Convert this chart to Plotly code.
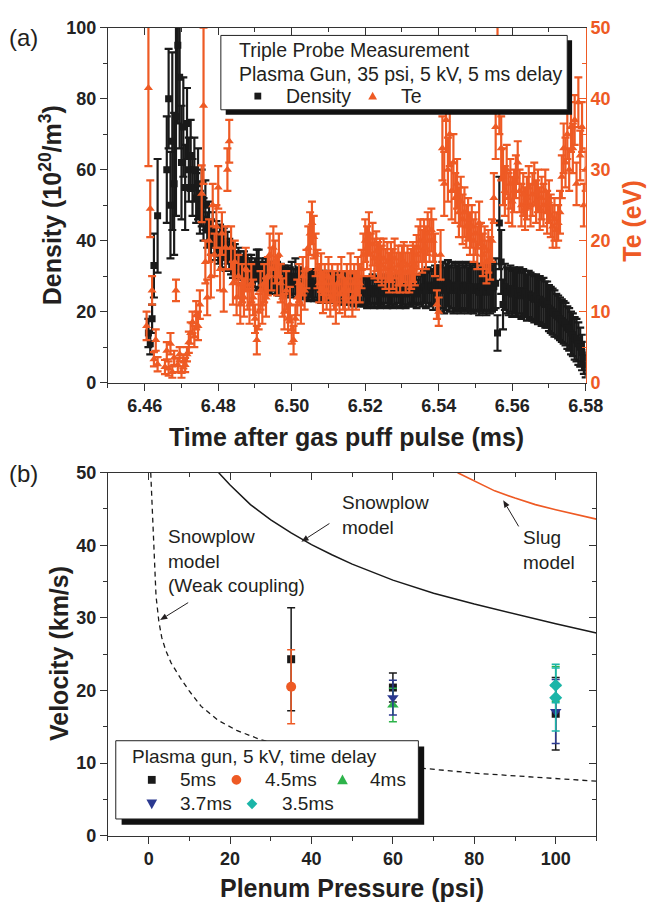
import plotly.graph_objects as go

# ---------------- data: panel (a) ----------------
T_START = 6.4605          # ms, first sample
T_STEP = 0.0005           # ms, sample spacing
N_SAMPLES = 240
time_ms = [round(T_START + T_STEP * i, 4) for i in range(N_SAMPLES)]

density = [
    None, 14, 11, 18, 33, None, 47, None, None, None, None,
    60, 80, 50, 68, 56, 75, 95, 86, 62, 72, 55, 73, 60, 64, 55, 60, 52, 56, 48,
    52, 46, 50, 43, 45, 41, 43, 39, 41, 38, 40, 37, 39, 36, 38, 36, 35, 34, 35, 33,
    34, 33, 32, 33, 31, 32, 31, 32, 30, 31,
    33, 32, 30, 31, 30, 31, 29.5, 30, 29, 30, 29, 30, 28.5, 29.5, 28.5, 29, 28, 29, 28.5, 29.5,
    28, 30, 28, 28.5, 27.5, 28, 27.5, 28, 27, 28,
    27.5, 27, 28, 27, 27.5, 26.5, 27.5, 27, 26.5, 27.5, 26.5, 27, 26.5, 27, 26, 27, 26.5, 26, 27, 26,
    26.5, 26, 26.5, 25.5, 26.5, 26, 25.5, 26, 25.5, 26,
    25, 26, 25.5, 26.5, 25, 26, 25.5, 25, 26, 25.5, 26.5, 25, 25.5, 26, 25, 26, 25.5, 26.5, 25, 25.5,
    26, 25, 26, 25.5, 26.5, 25.5, 26, 25, 26.5, 26,
    26, 27, 26, 27.5, 26.5, 27, 26, 27.5, 26.5, 27,
    26.5, 27.5, 26, 27, 28, 26.5, 27.5, 26, 27, 26.5, 27.5, 26, 27, 26.5, 27.5, 26, 27, 26.5, 26, 27,
    26.5, 25.5, 27, 26, 26.5, 25.5, 27, 26, 26.5, 27,
    28, 14, 45, 34, 22, 27,
    26, 25.5, 26.5, 25, 26, 25.5, 25, 26, 24.5, 25.5, 25, 24, 25, 24.5,
    24, 23.5, 24, 23, 23.5, 22.5, 23, 22, 22, 21,
    20.5, 20, 19.5, 19, 18.5, 18, 17.5, 17, 16.5, 15.5, 15, 14, 13.5, 12.5, 12, 11, 10, 8.5, 7, 5,
]
density_err = [
    None, 4, 3, 4, 9, None, 16, None, None, None, None,
    15, 14, 15, 25, 20, 28, 22, 20, 16, 14, 12, 10, 9, 10, 8, 9, 7, 10, 6,
    8, 6, 7, 5, 6, 5, 5, 4.5, 4.5, 4.5, 4.5, 4.5, 4.5, 4.5, 4.5, 4.5, 4.5, 4.5,
    4, 4, 4, 4, 4, 4, 4, 4, 4, 4, 4, 4,
    4.5, 5.5, 4, 4, 4, 4, 4, 4, 4, 4, 4, 4, 4, 4, 4, 4, 4, 4, 4, 4.5,
    4, 5, 4, 4, 4, 4, 4, 4, 4, 4,
    4, 4, 4, 4, 4, 4, 4, 4, 4, 4, 4, 4, 4, 4, 4, 4, 4, 4, 4, 4,
    4, 4, 4, 4, 4, 4, 4, 4, 4, 4,
    4, 4, 4, 4, 4, 4, 4, 4, 4, 4, 4, 4, 4, 4, 4, 4, 4, 4, 4, 4,
    4, 4, 4, 4, 4, 4, 4, 4, 4, 4,
    4.5, 4.5, 5, 5, 5, 5, 5.5, 5.5, 6, 6,
    6.5, 6.5, 6.5, 6.5, 6.5, 6.5, 6.5, 6.5, 6.5, 6.5, 6.5, 6.5, 6.5, 6.5, 6.5, 6.5, 6.5, 6.5, 6.5, 6.5,
    6.5, 6.5, 6.5, 6.5, 6.5, 6.5, 6.5, 6.5, 6.5, 6.5,
    7, 5, 13, 9, 7, 6.5,
    6.5, 6.5, 6.5, 6.5, 6.5, 6.5, 6.5, 6.5, 6.5, 6.5, 6.5, 6.5, 6.5, 6.5,
    6.5, 6.5, 6.5, 6.5, 6.5, 6.5, 6.5, 6.5, 6.5, 6.5,
    6.5, 6.5, 6.5, 6, 6, 6, 6, 6, 6, 6, 6, 6, 6, 6, 6, 6, 5.5, 5, 4.5, 3.5,
]
te = [
    8, 41.5, 24.5, 13, 3.3, 6, 2.6, None, None, None,
    2.2, 4.5, 2, 5.5, 1.5, 3.5, 13, 2.5, 4, 1.5, 3, 2.5, 4, 5.7, 7, 8.5, 6.5, 9.5, 8, 11,
    26.6, 39, 17, 12, 20, 15, 25, 18, 22, 27.5, 16, 21, 13, 19, 30, 34, 19, 14, 17, 12,
    15, 11, 14, 12, 16, 13, 11, 14, 12, 9,
    6, 10, 13, 11, 14, 12, 15, 18, 16, 19, 17, 15, 18, 14, 12, 10, 13, 9, 11, 7.5,
    6, 9, 12, 14, 11, 15, 13, 16, 19, 21,
    22.5, 20.5, 18, 16, 14, 15.5, 12.5, 14, 13, 15, 12, 14, 13, 11, 14, 12.5, 15, 13, 12, 14,
    13, 15.5, 12, 14, 13, 15, 14, 16, 18, 20,
    19, 21, 18, 19.5, 17.5, 18.5, 17, 17.5, 16.5, 17.5, 16, 17, 15.5, 17, 16, 17.5, 15.5, 16.5, 15.5, 16.5,
    17, 15.5, 16.5, 15.5, 16, 17, 16.5, 18, 19, 20,
    18.5, 20, 19, 21, 20, 21.5, 20, 18, 11, 10, 18, 33, 28, 37, 30, 35, 27, 31, 26, 28,
    24, 25.5, 23, 24, 22, 23, 21, 22, 20, 21,
    19, 22.5, 19.5, 18, 19, 17, 18.5, 17.5, 20, 26, 36, 47, 40, 33, 29, 27, 30, 26, 28, 25.5,
    27, 29, 31, 27, 25, 26.5, 24.5, 26, 27.5, 25,
    26.5, 28, 25.5, 27, 24.5, 26, 25, 27, 24, 25.5, 23.5, 22, 23, 21.5, 22.5, 24, 29, 33, 31, 35,
    30, 36, 33, 37, 28, 39.5, 32, 36, 25, 30,
]
te_err = [
    2, 11, 4, 2, 1, 1.5, 1, None, None, None,
    1, 1.2, 1, 1.5, 0.8, 1, 1.5, 1, 1, 0.8, 1, 1, 1, 1.5, 1.5, 1.5, 1.5, 2, 2, 2,
    4, 11, 3, 2.5, 3, 3, 3, 3, 3, 3, 3, 3, 3, 3, 3, 3, 3, 3, 3, 2.5,
    3, 2.7, 2.7, 2.7, 3, 2.7, 2.7, 2.7, 2.5, 2,
    2, 2.5, 2.7, 2.7, 2.7, 2.7, 2.7, 3, 3, 3, 3, 2.7, 3, 2.7, 2.7, 2.5, 2.7, 2, 2.5, 2,
    2, 2, 2.5, 2.7, 2.7, 2.7, 2.7, 2.7, 3, 3,
    3, 3, 3, 2.7, 2.7, 2.7, 2.7, 2.7, 2.7, 2.7, 2.7, 2.7, 2.7, 2.7, 2.7, 2.7, 2.7, 2.7, 2.7, 2.7,
    2.7, 2.7, 2.7, 2.7, 2.7, 2.7, 2.7, 2.7, 3, 3,
    3, 3, 3, 3, 2.8, 2.8, 2.8, 2.8, 2.8, 2.8, 2.8, 2.8, 2.8, 2.8, 2.8, 2.8, 2.8, 2.8, 2.8, 2.8,
    2.8, 2.8, 2.8, 2.8, 2.8, 2.8, 2.8, 2.8, 3, 3,
    3, 3, 3, 3, 3, 3, 3, 3, 2, 2, 3.5, 4.5, 4.5, 4.5, 4.5, 4.5, 4, 4, 3.5, 3.5,
    3.5, 3.5, 3.5, 3.5, 3, 3, 3, 3, 3, 3,
    3, 3, 3, 3, 3, 3, 3, 3, 3, 3.5, 4.5, 4.5, 5, 4.5, 4, 3.5, 3.5, 3.5, 3.5, 3.5,
    3, 3, 3, 3, 3, 3, 3, 3, 3, 3,
    3, 3, 3, 3, 3, 3, 3, 3, 3, 3, 3, 3, 3, 2.5, 2.5, 3, 3, 3.5, 3.5, 3.5,
    3, 3.5, 3.5, 3.5, 3, 3.5, 3.5, 3.5, 3, 3,
]

# ---------------- data: panel (b) ----------------
p_5ms, v_5ms, e_5ms = [35, 60, 100], [24.3, 20.4, 16.8], [7.1, 2.0, 5.0]
p_45ms, v_45ms, e_45ms = [35], [20.5], [5.1]
p_4ms, v_4ms, e_4ms = [60, 100], [18.0, 20.9], [2.3, 2.4]
p_37ms, v_37ms, e_37ms = [60, 100], [19.0, 17.1], [2.4, 4.4]
p_35ms, v_35ms, e_35ms = [100, 100], [20.7, 19.0], [2.4, 4.6]

snowplow_p = [17.2, 20, 25, 30, 35, 40, 45, 50, 60, 70, 80, 90, 100, 110]
snowplow_v = [50, 48.3, 45.6, 43.5, 41.7, 40.1, 38.7, 37.4, 35.2, 33.4, 31.9, 30.5, 29.2, 27.9]
slug_p = [75.9, 80, 85, 90, 95, 100, 105, 110]
slug_v = [50, 48.9, 47.5, 46.5, 45.6, 44.9, 44.2, 43.6]
weak_p = [0.5, 0.9, 1.3, 1.8, 2.5, 3.2, 4.2, 5.5, 7.8, 10, 12.9, 17, 21.6, 27.6, 35, 45, 56, 67, 80, 95, 110]
weak_v = [50, 44, 38, 33, 29.5, 27.3, 25.5, 23.8, 21.7, 19.9, 17.8, 15.9, 14.5, 13.2, 12.1, 11.0, 10.1, 9.3, 8.6, 8.0, 7.5]

# annotation arrows: (head p, head v, tail p, tail v)
arrows = [(37.5, 40.5, 44.4, 43.0), (87.1, 46.2, 90.9, 42.6), (2.8, 29.7, 9.7, 32.1)]

# ---------------- styling ----------------
W, H = 665, 918
ORANGE = "#EE5A24"
BLACK = "#1a1a1a"
GREEN = "#2DB34A"
BLUE = "#2B3990"
TEAL = "#1BB5A8"
AX = "#333333"
FONT = "Liberation Sans"
TXT = "#231f20"

# plot-area pixel frames
TOP_L, TOP_R, TOP_T, TOP_B = 111, 602, 18, 381
BOT_L, BOT_R, BOT_T, BOT_B = 111, 613, 473, 844
BX_RANGE = [-10, 110]
BY_RANGE = [0, 50]


def PX(x):
    return x / W


def PY(y):
    return 1 - y / H


fig = go.Figure()

# panel (a)
fig.add_trace(go.Scatter(
    x=time_ms, y=density, xaxis="x", yaxis="y", mode="markers",
    marker=dict(symbol="square", size=7, color=BLACK),
    error_y=dict(type="data", array=density_err, color=BLACK, thickness=2.2, width=4),
    showlegend=False, name="Density"))
fig.add_trace(go.Scatter(
    x=time_ms, y=te, xaxis="x", yaxis="y2", mode="markers",
    marker=dict(symbol="triangle-up", size=8, color=ORANGE),
    error_y=dict(type="data", array=te_err, color=ORANGE, thickness=2.2, width=4),
    showlegend=False, name="Te"))
fig.add_trace(go.Scatter(x=[None], y=[None], xaxis="x2", yaxis="y", showlegend=False))

# panel (b)
fig.add_trace(go.Scatter(x=weak_p, y=weak_v, xaxis="x3", yaxis="y3", mode="lines",
                         line=dict(color=BLACK, width=1.3, dash="5px,4px"), showlegend=False))
fig.add_trace(go.Scatter(x=snowplow_p, y=snowplow_v, xaxis="x3", yaxis="y3", mode="lines",
                         line=dict(color=BLACK, width=1.5), showlegend=False))
fig.add_trace(go.Scatter(x=slug_p, y=slug_v, xaxis="x3", yaxis="y3", mode="lines",
                         line=dict(color=ORANGE, width=1.6), showlegend=False))


def pts(px_, v_, e_, sym, size, color, name):
    fig.add_trace(go.Scatter(
        x=px_, y=v_, xaxis="x3", yaxis="y3", mode="markers", name=name,
        marker=dict(symbol=sym, size=size, color=color),
        error_y=dict(type="data", array=e_, color=color, thickness=1.5, width=4),
        showlegend=False))


pts(p_5ms, v_5ms, e_5ms, "square", 8, BLACK, "5ms")
pts(p_45ms, v_45ms, e_45ms, "circle", 10, ORANGE, "4.5ms")
pts(p_4ms, v_4ms, e_4ms, "triangle-up", 10, GREEN, "4ms")
pts(p_37ms, v_37ms, e_37ms, "triangle-down", 10, BLUE, "3.7ms")
pts(p_35ms, v_35ms, e_35ms, "diamond", 10, TEAL, "3.5ms")
fig.add_trace(go.Scatter(x=[None], y=[None], xaxis="x4", yaxis="y4", showlegend=False))

tickfont = dict(family=FONT, size=18, color="#222", weight="bold")


def axis(**kw):
    d = dict(showline=True, linecolor=AX, linewidth=1.3, showgrid=False, zeroline=False,
             ticks="outside", ticklen=7, tickwidth=1.3, tickcolor=AX, tickfont=tickfont,
             fixedrange=True)
    d.update(kw)
    return d


def minor(dt, side="outside", color=AX):
    return dict(ticks=side, ticklen=4, tickwidth=1.3, tickcolor=color, dtick=dt, showgrid=False)


fig.update_layout(
    width=W, height=H, margin=dict(l=0, r=0, t=0, b=0),
    paper_bgcolor="white", plot_bgcolor="white",
    xaxis=axis(domain=[PX(TOP_L), PX(TOP_R)], anchor="y", range=[6.45, 6.58], tick0=6.46, dtick=0.02,
               tickformat=".2f", minor=minor(0.01)),
    xaxis2=axis(overlaying="x", side="top", anchor="y", range=[6.45, 6.58], tick0=6.46, dtick=0.02,
                ticks="inside", showticklabels=False, minor=minor(0.01, "inside")),
    yaxis=axis(domain=[PY(TOP_B), PY(TOP_T)], anchor="x", range=[0, 100], dtick=20, minor=minor(10)),
    yaxis2=axis(overlaying="y", side="right", anchor="x", range=[0, 50], dtick=10,
                ticks="inside", linecolor=ORANGE, tickcolor=ORANGE,
                tickfont=dict(family=FONT, size=18, color=ORANGE, weight="bold"),
                minor=minor(5, "inside", ORANGE)),
    xaxis3=axis(domain=[PX(BOT_L), PX(BOT_R)], anchor="y3", range=BX_RANGE, tick0=0, dtick=20,
                minor=minor(10)),
    xaxis4=axis(overlaying="x3", side="top", anchor="y3", range=BX_RANGE, tick0=0, dtick=20,
                ticks="inside", showticklabels=False, minor=minor(10, "inside")),
    yaxis3=axis(domain=[PY(BOT_B), PY(BOT_T)], anchor="x3", range=BY_RANGE, dtick=10, minor=minor(5)),
    yaxis4=axis(overlaying="y3", side="right", anchor="x3", range=BY_RANGE, dtick=10,
                ticks="inside", showticklabels=False, minor=minor(5, "inside")),
)

shapes = []
annotations = []


def rect(x0, y0, x1, y1, fill, line_color=None, lw=0):
    shapes.append(dict(type="rect", xref="paper", yref="paper", layer="above",
                       x0=PX(x0), x1=PX(x1), y0=PY(y1), y1=PY(y0), fillcolor=fill,
                       line=dict(color=line_color or fill, width=lw)))


def poly(p, color):
    path = "M " + " L ".join(f"{PX(a):.5f},{PY(b):.5f}" for a, b in p) + " Z"
    shapes.append(dict(type="path", xref="paper", yref="paper", layer="above", path=path,
                       fillcolor=color, line=dict(color=color, width=0)))


def key(kind, cx, cy, r, color):
    if kind == "square":
        rect(cx - r, cy - r, cx + r, cy + r, color)
    elif kind == "circle":
        shapes.append(dict(type="circle", xref="paper", yref="paper", layer="above",
                           x0=PX(cx - r), x1=PX(cx + r), y0=PY(cy + r), y1=PY(cy - r),
                           fillcolor=color, line=dict(color=color, width=0)))
    elif kind == "tri-up":
        poly([(cx, cy - r), (cx + r, cy + 0.8 * r), (cx - r, cy + 0.8 * r)], color)
    elif kind == "tri-down":
        poly([(cx, cy + r), (cx + r, cy - 0.8 * r), (cx - r, cy - 0.8 * r)], color)
    else:
        poly([(cx, cy - r), (cx + r, cy), (cx, cy + r), (cx - r, cy)], color)


def text(x, y, s, size=19, color=TXT, bold=False, xanchor="left", angle=0, align="left"):
    annotations.append(dict(xref="paper", yref="paper", x=PX(x), y=PY(y), text=s,
                            showarrow=False, xanchor=xanchor, yanchor="middle",
                            textangle=angle, align=align,
                            font=dict(family=FONT, size=size, color=color,
                                      weight="bold" if bold else "normal")))


# legend (a)
rect(232, 31, 588, 107, "#111")
rect(227, 26, 583, 102, "white", "#222", 1)
text(244, 41, "Triple Probe Measurement", size=19.5)
text(244, 65, "Plasma Gun, 35 psi, 5 kV, 5 ms delay", size=19.5)
key("square", 265, 88, 3.5, BLACK)
text(292, 88, "Density", size=19.5)
key("tri-up", 383, 88, 4.5, ORANGE)
text(410, 88, "Te", size=19.5)

# legend (b)
rect(125, 753, 436, 833, "#111")
rect(119, 747, 430, 827, "white", "#222", 1)
text(134, 763, "Plasma gun, 5 kV, time delay")
key("square", 156, 787, 4, BLACK)
text(183, 787, "5ms")
key("circle", 243, 787, 5, ORANGE)
text(270, 787, "4.5ms")
key("tri-up", 352, 787, 5.5, GREEN)
text(378, 787, "4ms")
key("tri-down", 156, 811.5, 5.5, BLUE)
text(183, 811.5, "3.7ms")
key("diamond", 259, 811.5, 5.5, TEAL)
text(288, 811.5, "3.5ms")

# panel labels and axis titles
text(7, 28, "(a)", size=24)
text(7, 474, "(b)", size=24)
text(356.5, 437, "Time after gas puff pulse (ms)", size=25, bold=True, xanchor="center")
text(362, 898, "Plenum Pressure (psi)", size=25, bold=True, xanchor="center")
text(52, 200, "Density (10<sup>20</sup>/m<sup>3</sup>)", size=25, bold=True, xanchor="center", angle=-90)
text(60, 658, "Velocity (km/s)", size=25, bold=True, xanchor="center", angle=-90)
text(650, 215, "Te (eV)", size=25, bold=True, xanchor="center", angle=-90, color=ORANGE)

# model labels
text(349, 516.5, "Snowplow<br>model")
text(535, 552.5, "Slug<br>model")
text(171, 563, "Snowplow<br>model<br>(Weak coupling)")


# arrows drawn as line + filled head, placed through the bottom axes' scale
def bx(p):
    return BOT_L + (p - BX_RANGE[0]) * (BOT_R - BOT_L) / (BX_RANGE[1] - BX_RANGE[0])


def by(v):
    return BOT_B - (v - BY_RANGE[0]) * (BOT_B - BOT_T) / (BY_RANGE[1] - BY_RANGE[0])


for hp, hv, tp, tv in arrows:
    hx, hy, tx, ty = bx(hp), by(hv), bx(tp), by(tv)
    dx, dy = hx - tx, hy - ty
    ln = (dx * dx + dy * dy) ** 0.5
    ux, uy = dx / ln, dy / ln
    L, Wd = 7.5, 3.0
    bxp, byp = hx - ux * L, hy - uy * L
    shapes.append(dict(type="line", xref="paper", yref="paper", layer="above",
                       x0=PX(tx), y0=PY(ty), x1=PX(bxp), y1=PY(byp),
                       line=dict(color=TXT, width=1)))
    poly([(hx, hy), (bxp - uy * Wd, byp + ux * Wd), (bxp + uy * Wd, byp - ux * Wd)], TXT)

fig.update_layout(shapes=shapes, annotations=annotations)

fig.write_html("out.html", include_plotlyjs=True, config={"displayModeBar": False},
               post_script="document.body.style.margin='0';")
